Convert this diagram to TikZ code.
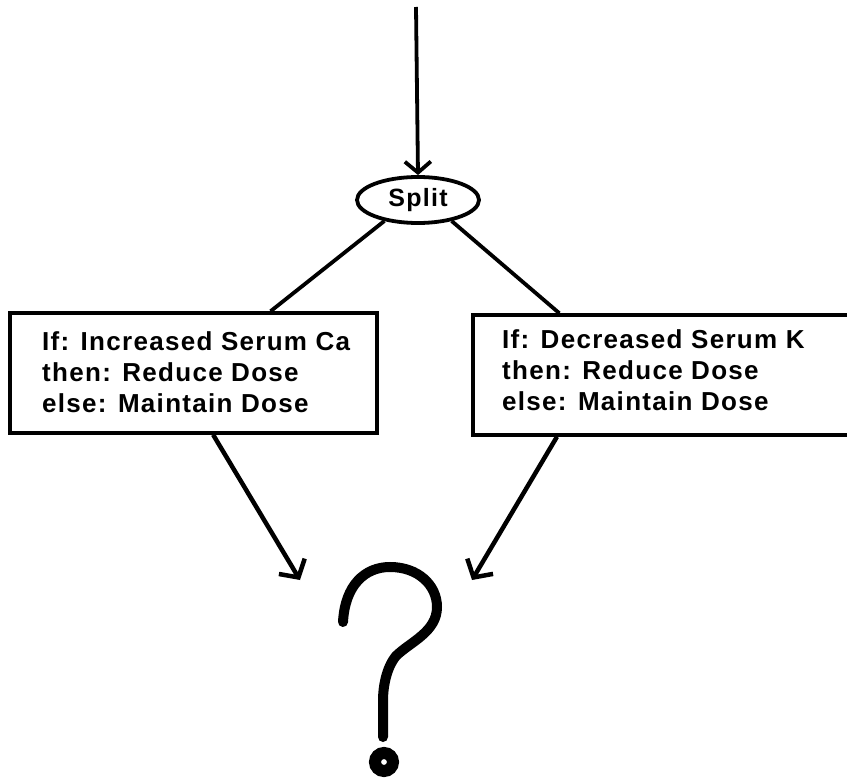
\documentclass[tikz,border=0pt]{standalone}
\usepackage{fontspec}
\setmainfont{Liberation Sans}[LetterSpace=5]
\usetikzlibrary{arrows.meta,calc,shapes.geometric}
\begin{document}
\begin{tikzpicture}[x=1pt,y=-1pt,
  line/.style={line width=3.8pt,black},
  arr/.style={line width=4.5pt,-{Straight Barb[length=13pt,width=30pt,line width=4.5pt]}},
  boxnode/.style={draw,line width=3.5pt,rectangle,inner sep=0pt},
  txt/.style={font=\fontsize{26}{31}\selectfont\bfseries,align=left,inner sep=0pt,anchor=base west},
  splitnode/.style={draw,ellipse,line width=3.8pt,minimum width=122pt,minimum height=46pt,inner sep=0pt,font=\fontsize{25}{30}\selectfont\bfseries}]
\useasboundingbox (0,0) rectangle (847,778);
\fill[white] (0,0) rectangle (847,778);
\node[splitnode] (split) at (418,200) {Split};
\coordinate (top) at (416,7);
\draw[line width=3.8pt,-{Straight Barb[length=11pt,width=26pt,line width=3.8pt]}] (top) -- (split.north);
\node[boxnode,minimum width=367pt,minimum height=120pt] (lbox) at (193.5,373) {};
\node[boxnode,minimum width=397pt,minimum height=120pt] (rbox) at (671.5,375) {};
\node[txt] (ltext) at (42,412) {If: Increased Serum Ca\\then: Reduce Dose\\else: Maintain Dose};
\node[txt] (rtext) at (502,410) {If: Decreased Serum K\\then: Reduce Dose\\else: Maintain Dose};
\draw[line] (split.212) -- ($(lbox.north west)!0.708!(lbox.north east)$);
\draw[line] (split.328) -- ($(rbox.north west)!0.22!(rbox.north east)$);
\coordinate (lend) at (300,580);
\coordinate (rend) at (472,580);
\draw[arr] ($(lbox.south west)!0.553!(lbox.south east)$) -- (lend);
\draw[arr] ($(rbox.south west)!0.214!(rbox.south east)$) -- (rend);
\draw[line width=10pt,line cap=round] (343,622) .. controls (345,585) and (365,567) .. (390,567) .. controls (418,567) and (437,585) .. (437,607) .. controls (437,632) and (410,642) .. (396,656) .. controls (386,668) and (383,688) .. (383,700) -- (383,737);
\draw[line width=12pt] (384,762) circle (9pt);
\end{tikzpicture}
\end{document}
